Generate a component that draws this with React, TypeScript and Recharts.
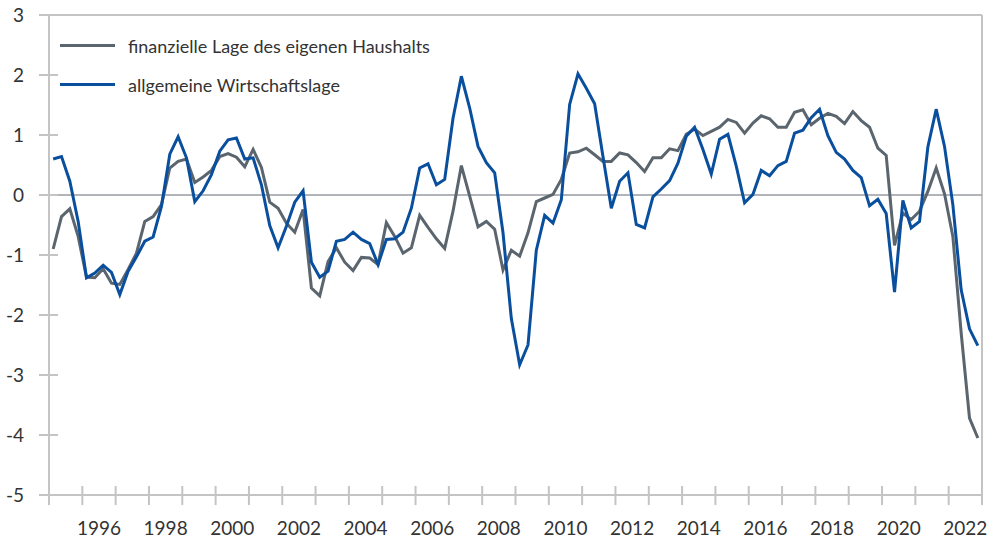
import { LineChart, Line, XAxis, YAxis, ReferenceLine, Legend } from 'recharts';

// quarterly values, 1995 Q1 .. 2022 Q4
const haushaltLage = [
  -0.9, -0.36, -0.23, -0.69, -1.37, -1.38, -1.23, -1.47, -1.49, -1.24, -0.97, -0.44,
  -0.36, -0.16, 0.45, 0.56, 0.6, 0.21, 0.3, 0.41, 0.64, 0.69, 0.63, 0.47,
  0.76, 0.46, -0.12, -0.22, -0.47, -0.62, -0.24, -1.55, -1.68, -1.11, -0.88, -1.12,
  -1.26, -1.04, -1.05, -1.16, -0.46, -0.69, -0.97, -0.88, -0.34, -0.54, -0.73, -0.89,
  -0.27, 0.49, -0.02, -0.53, -0.44, -0.57, -1.25, -0.92, -1.02, -0.63, -0.11, -0.05,
  0.01, 0.26, 0.7, 0.72, 0.78, 0.67, 0.56, 0.56, 0.7, 0.67, 0.54, 0.39,
  0.62, 0.62, 0.77, 0.74, 1.01, 1.1, 0.99, 1.06, 1.13, 1.26, 1.21, 1.03,
  1.2, 1.32, 1.27, 1.13, 1.13, 1.38, 1.42, 1.17, 1.28, 1.36, 1.31, 1.19,
  1.39, 1.24, 1.13, 0.78, 0.66, -0.84, -0.3, -0.41, -0.27, 0.06, 0.45, 0.02,
  -0.69, -2.3, -3.72, -4.05,
];

const wirtschaftsLage = [
  0.6, 0.64, 0.23, -0.44, -1.38, -1.3, -1.17, -1.29, -1.66, -1.27, -1.03, -0.77,
  -0.7, -0.19, 0.68, 0.97, 0.62, -0.11, 0.07, 0.34, 0.73, 0.92, 0.95, 0.6,
  0.62, 0.17, -0.51, -0.88, -0.52, -0.12, 0.07, -1.12, -1.37, -1.27, -0.77, -0.74,
  -0.62, -0.74, -0.81, -1.16, -0.74, -0.73, -0.62, -0.22, 0.45, 0.52, 0.17, 0.26,
  1.28, 1.98, 1.45, 0.81, 0.54, 0.37, -0.63, -2.06, -2.83, -2.5, -0.92, -0.34,
  -0.47, -0.08, 1.51, 2.02, 1.78, 1.52, 0.64, -0.22, 0.23, 0.37, -0.49, -0.55,
  -0.03, 0.1, 0.24, 0.53, 0.98, 1.13, 0.76, 0.35, 0.93, 1.01, 0.48, -0.13,
  0.01, 0.41, 0.32, 0.49, 0.56, 1.03, 1.08, 1.29, 1.43, 0.99, 0.71, 0.6,
  0.41, 0.29, -0.18, -0.07, -0.31, -1.62, -0.09, -0.55, -0.44, 0.8, 1.43, 0.81,
  -0.16, -1.58, -2.23, -2.51,
];

const firstYear = 1995;
const lastYear = 2023;
const yTicks = [-5, -4, -3, -2, -1, 0, 1, 2, 3];

const FONT = 'Lato, "Open Sans", sans-serif';
const GRAY = '#5b656e';
const BLUE = '#0a4f9e';
const AXIS = '#c4c4c4';

const WIDTH = 987;
const HEIGHT = 543;
const LEFT = 49;
const RIGHT = 5;
const YEAR_PX = (WIDTH - LEFT - RIGHT) / (lastYear - firstYear);

const data = haushaltLage.map((v, i) => ({
  t: i + 0.5,
  haushalt: v,
  wirtschaft: wirtschaftsLage[i],
}));

const yearTicks: number[] = [];
for (let y = firstYear; y <= lastYear; y++) yearTicks.push((y - firstYear) * 4);

const XTick = (props: any) => {
  const { x, y, payload } = props;
  const year = firstYear + payload.value / 4;
  return (
    <g>
      <line x1={x} x2={x} y1={y - 9} y2={y + 10} stroke={AXIS} strokeWidth={2} />
      {year % 2 === 0 && year < lastYear && (
        <text x={x + YEAR_PX / 2} y={y + 40} textAnchor="middle" fill="#333" fontSize={19} fontFamily={FONT}>
          {year}
        </text>
      )}
    </g>
  );
};

const YTick = (props: any) => {
  const { x, y, payload } = props;
  return (
    <g>
      <line x1={x - 10} x2={x + 9} y1={y} y2={y} stroke={AXIS} strokeWidth={2} />
      <text x={x - 25} y={y + 6.5} textAnchor="end" fill="#333" fontSize={19} fontFamily={FONT}>
        {payload.value}
      </text>
    </g>
  );
};

const LegendBox = (props: any) => (
  <div style={{ fontFamily: FONT, fontSize: 18, color: '#333' }}>
    {props.payload.map((p: any) => (
      <div key={p.value} style={{ display: 'flex', alignItems: 'center', height: 39 }}>
        <div style={{ width: 55, height: 3.5, background: p.color }} />
        <span style={{ marginLeft: 13 }}>{p.value}</span>
      </div>
    ))}
  </div>
);

export default function App() {
  return (
    <div style={{ position: 'absolute', left: 0, top: 0, background: '#fff' }}>
      <LineChart width={WIDTH} height={HEIGHT} data={data} margin={{ top: 15, right: RIGHT, bottom: 0, left: 0 }}>
        <XAxis
          dataKey="t"
          type="number"
          domain={[0, (lastYear - firstYear) * 4]}
          ticks={yearTicks}
          interval={0}
          height={48}
          tickSize={0}
          tickMargin={0}
          tickLine={false}
          tick={<XTick />}
          axisLine={{ stroke: AXIS, strokeWidth: 2 }}
        />
        <YAxis
          type="number"
          domain={[-5, 3]}
          ticks={yTicks}
          interval={0}
          width={LEFT}
          tickSize={0}
          tickMargin={0}
          tickLine={false}
          tick={<YTick />}
          axisLine={{ stroke: AXIS, strokeWidth: 2 }}
        />
        <ReferenceLine y={3} stroke={AXIS} strokeWidth={2} />
        <ReferenceLine x={(lastYear - firstYear) * 4} stroke={AXIS} strokeWidth={2} />
        <ReferenceLine y={0} stroke="#979da3" strokeWidth={1.5} />
        <Legend
          layout="vertical"
          align="center"
          verticalAlign="middle"
          itemSorter="dataKey"
          content={<LegendBox />}
          wrapperStyle={{ left: 60, top: 26, width: 440 }}
        />
        <Line
          name="finanzielle Lage des eigenen Haushalts"
          dataKey="haushalt"
          stroke={GRAY}
          strokeWidth={3}
          dot={false}
          isAnimationActive={false}
        />
        <Line
          name="allgemeine Wirtschaftslage"
          dataKey="wirtschaft"
          stroke={BLUE}
          strokeWidth={3}
          dot={false}
          isAnimationActive={false}
        />
      </LineChart>
    </div>
  );
}
